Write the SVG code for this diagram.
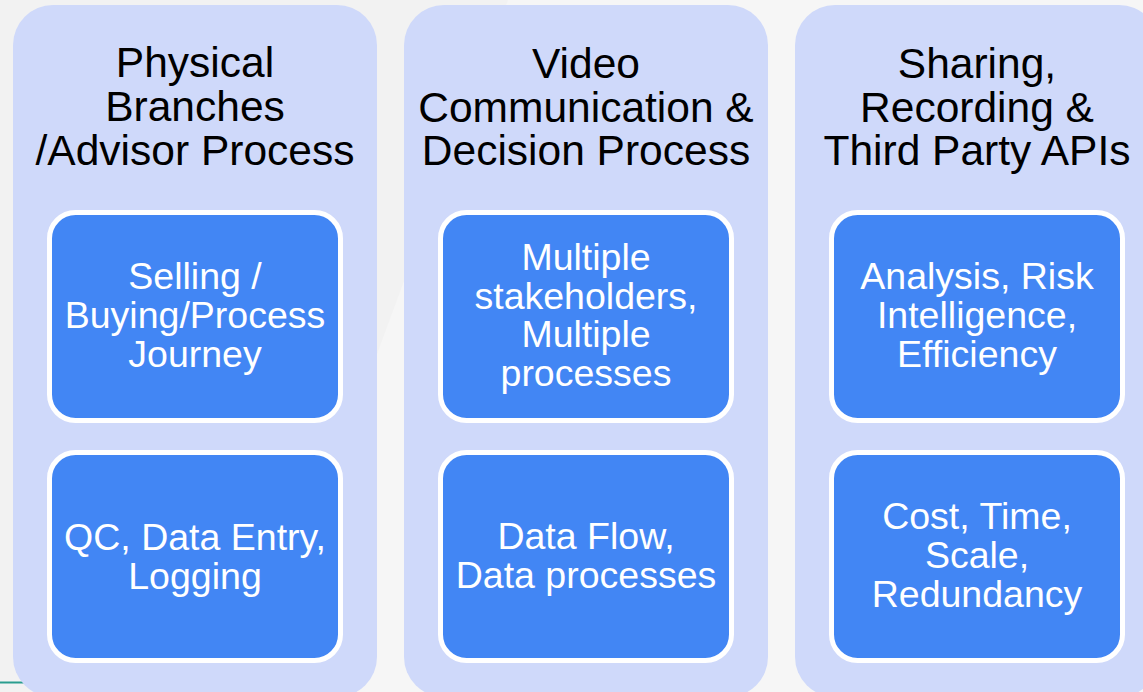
<svg xmlns="http://www.w3.org/2000/svg" width="1143" height="692" viewBox="0 0 1143 692">
  <style>
    .col { fill: #cfd9fa; }
    .box { fill: #4286f4; stroke: #ffffff; stroke-width: 5; }
    .head { font-family: "Liberation Sans", Arial, sans-serif; font-size: 42.5px; fill: #000000; text-anchor: middle; }
    .lbl { font-family: "Liberation Sans", Arial, sans-serif; font-size: 37.5px; fill: #ffffff; text-anchor: middle; }
  </style>

  <!-- backdrop: two grey planes split by a diagonal, plus a thin accent rule -->
  <rect x="0" y="0" width="1143" height="692" fill="#f6f6f6"/>
  <polygon points="0,0 508,0 252,692 0,692" fill="#f2f2f2"/>
  <line x1="0" y1="682.5" x2="60" y2="682.5" stroke="#2a9d8f" stroke-width="2"/>

  <!-- column 1 -->
  <g id="col-physical">
    <rect class="col" x="13" y="5" width="364" height="692" rx="40" ry="40"/>
    <text class="head" x="195" y="77">Physical</text>
    <text class="head" x="195" y="121">Branches</text>
    <text class="head" x="195" y="165">/Advisor Process</text>
  </g>
  <g id="node-selling">
    <rect class="box" x="49.5" y="212.5" width="291" height="208" rx="26" ry="26"/>
    <text class="lbl" x="195" y="289">Selling /</text>
    <text class="lbl" x="195" y="328">Buying/Process</text>
    <text class="lbl" x="195" y="367">Journey</text>
  </g>
  <g id="node-qc">
    <rect class="box" x="49.5" y="452.5" width="291" height="208" rx="26" ry="26"/>
    <text class="lbl" x="195" y="550">QC, Data Entry,</text>
    <text class="lbl" x="195" y="589">Logging</text>
  </g>

  <!-- column 2 -->
  <g id="col-video">
    <rect class="col" x="404" y="5" width="364" height="692" rx="40" ry="40"/>
    <text class="head" x="586" y="78">Video</text>
    <text class="head" x="586" y="122">Communication &amp;</text>
    <text class="head" x="586" y="165">Decision Process</text>
  </g>
  <g id="node-stakeholders">
    <rect class="box" x="440.5" y="212.5" width="291" height="208" rx="26" ry="26"/>
    <text class="lbl" x="586" y="270">Multiple</text>
    <text class="lbl" x="586" y="309">stakeholders,</text>
    <text class="lbl" x="586" y="347">Multiple</text>
    <text class="lbl" x="586" y="386">processes</text>
  </g>
  <g id="node-dataflow">
    <rect class="box" x="440.5" y="452.5" width="291" height="208" rx="26" ry="26"/>
    <text class="lbl" x="586" y="549">Data Flow,</text>
    <text class="lbl" x="586" y="588">Data processes</text>
  </g>

  <!-- column 3 -->
  <g id="col-sharing">
    <rect class="col" x="795" y="5" width="364" height="692" rx="40" ry="40"/>
    <text class="head" x="977" y="78">Sharing,</text>
    <text class="head" x="977" y="122">Recording &amp;</text>
    <text class="head" x="977" y="165">Third Party APIs</text>
  </g>
  <g id="node-analysis">
    <rect class="box" x="831.5" y="212.5" width="291" height="208" rx="26" ry="26"/>
    <text class="lbl" x="977" y="289">Analysis, Risk</text>
    <text class="lbl" x="977" y="328">Intelligence,</text>
    <text class="lbl" x="977" y="367">Efficiency</text>
  </g>
  <g id="node-cost">
    <rect class="box" x="831.5" y="452.5" width="291" height="208" rx="26" ry="26"/>
    <text class="lbl" x="977" y="529">Cost, Time,</text>
    <text class="lbl" x="977" y="568">Scale,</text>
    <text class="lbl" x="977" y="607">Redundancy</text>
  </g>

  <g id="connectors"/>
</svg>
